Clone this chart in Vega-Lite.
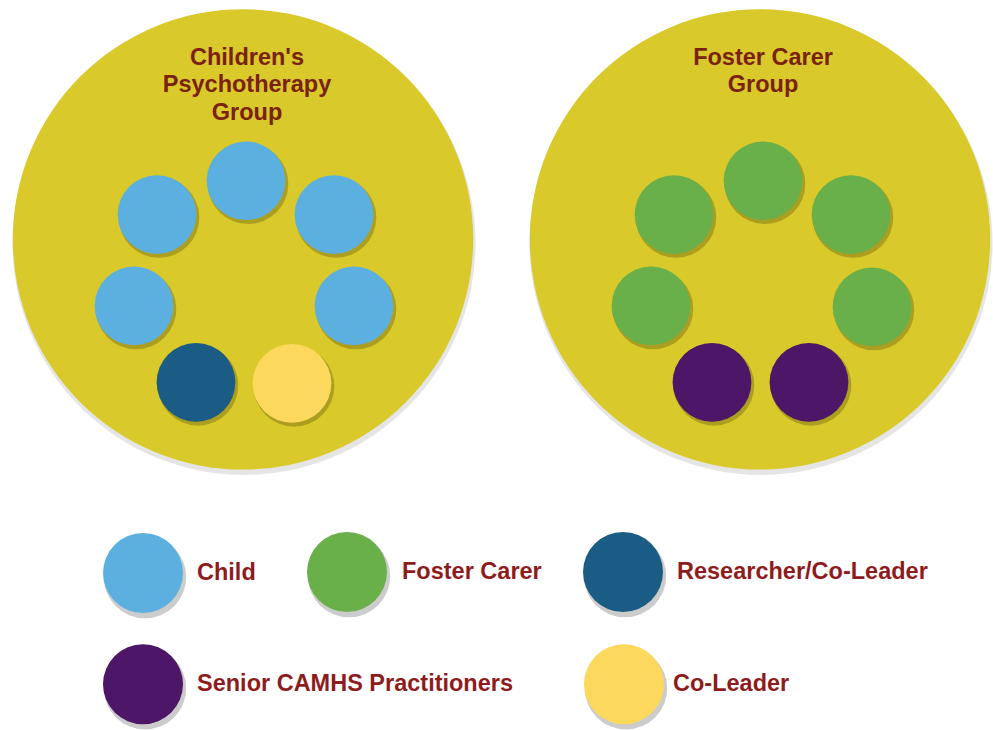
{
  "$schema": "https://vega.github.io/schema/vega-lite/v6.json",
  "width": 993,
  "height": 730,
  "autosize": {"type": "fit", "contains": "padding"},
  "padding": 0,
  "background": "#ffffff",
  "config": {"view": {"stroke": null}},
  "datasets": {
    "groups": [
      {"group": "Children's Psychotherapy Group", "x": 243, "y": 241},
      {"group": "Foster Carer Group", "x": 760, "y": 241}
    ],
    "members": [
      {"group": "Children's Psychotherapy Group", "role": "Child", "x": 246, "y": 182},
      {"group": "Children's Psychotherapy Group", "role": "Child", "x": 157, "y": 216},
      {"group": "Children's Psychotherapy Group", "role": "Child", "x": 334, "y": 216},
      {"group": "Children's Psychotherapy Group", "role": "Child", "x": 134, "y": 308},
      {"group": "Children's Psychotherapy Group", "role": "Child", "x": 354, "y": 308},
      {"group": "Children's Psychotherapy Group", "role": "Researcher/Co-Leader", "x": 196, "y": 385},
      {"group": "Children's Psychotherapy Group", "role": "Co-Leader", "x": 292, "y": 386},
      {"group": "Foster Carer Group", "role": "Foster Carer", "x": 763, "y": 182},
      {"group": "Foster Carer Group", "role": "Foster Carer", "x": 674, "y": 216},
      {"group": "Foster Carer Group", "role": "Foster Carer", "x": 851, "y": 216},
      {"group": "Foster Carer Group", "role": "Foster Carer", "x": 651, "y": 308},
      {"group": "Foster Carer Group", "role": "Foster Carer", "x": 872, "y": 309},
      {"group": "Foster Carer Group", "role": "Senior CAMHS Practitioners", "x": 712, "y": 385},
      {"group": "Foster Carer Group", "role": "Senior CAMHS Practitioners", "x": 809, "y": 385}
    ],
    "titles": [
      {"label": "Children's", "x": 247, "y": 65},
      {"label": "Psychotherapy", "x": 247, "y": 93},
      {"label": "Group", "x": 247, "y": 121},
      {"label": "Foster Carer", "x": 763, "y": 65},
      {"label": "Group", "x": 763, "y": 93}
    ],
    "legend": [
      {"role": "Child", "x": 143, "y": 577, "tx": 197},
      {"role": "Foster Carer", "x": 347, "y": 576, "tx": 402},
      {"role": "Researcher/Co-Leader", "x": 623, "y": 576, "tx": 677},
      {"role": "Senior CAMHS Practitioners", "x": 143, "y": 689, "tx": 197},
      {"role": "Co-Leader", "x": 624, "y": 689, "tx": 673}
    ]
  },
  "encoding": {
    "x": {"field": "x", "type": "quantitative", "scale": {"domain": [0, 993], "nice": false, "zero": false}, "axis": null},
    "y": {"field": "y", "type": "quantitative", "scale": {"domain": [0, 730], "nice": false, "zero": false, "reverse": true}, "axis": null}
  },
  "layer": [
    {
      "data": {"name": "groups"},
      "mark": {"type": "point", "shape": "circle", "filled": true, "size": 214500, "color": "#000000", "opacity": 0.1, "yOffset": 4, "xOffset": 1}
    },
    {
      "data": {"name": "groups"},
      "mark": {"type": "point", "shape": "circle", "filled": true, "size": 212000, "color": "#D9C92B", "opacity": 1}
    },
    {
      "data": {"name": "members"},
      "mark": {"type": "point", "shape": "circle", "filled": true, "size": 6500, "color": "#3a3000", "opacity": 0.28, "xOffset": 2, "yOffset": 3}
    },
    {
      "data": {"name": "members"},
      "mark": {"type": "point", "shape": "circle", "filled": true, "size": 6200, "opacity": 1},
      "encoding": {
        "color": {"field": "role", "type": "nominal", "legend": null,
          "scale": {"domain": ["Child", "Foster Carer", "Researcher/Co-Leader", "Senior CAMHS Practitioners", "Co-Leader"],
                    "range": ["#5CB0E0", "#6AB04A", "#1A5C84", "#4D1666", "#FCD85C"]}}
      }
    },
    {
      "data": {"name": "titles"},
      "mark": {"type": "text", "font": "Liberation Sans", "fontWeight": "bold", "fontSize": 23.5, "color": "#7A2212", "align": "center", "baseline": "alphabetic"},
      "encoding": {"text": {"field": "label", "type": "nominal"}}
    },
    {
      "data": {"name": "legend"},
      "mark": {"type": "point", "shape": "circle", "filled": true, "size": 6800, "color": "#000000", "opacity": 0.2, "xOffset": 2, "yOffset": 4}
    },
    {
      "data": {"name": "legend"},
      "mark": {"type": "point", "shape": "circle", "filled": true, "size": 6400, "opacity": 1},
      "encoding": {
        "color": {"field": "role", "type": "nominal", "legend": null,
          "scale": {"domain": ["Child", "Foster Carer", "Researcher/Co-Leader", "Senior CAMHS Practitioners", "Co-Leader"],
                    "range": ["#5CB0E0", "#6AB04A", "#1A5C84", "#4D1666", "#FCD85C"]}}
      }
    },
    {
      "data": {"name": "legend"},
      "mark": {"type": "text", "font": "Liberation Sans", "fontWeight": "bold", "fontSize": 23.5, "color": "#8E1C1C", "align": "left", "baseline": "middle"},
      "encoding": {
        "x": {"field": "tx", "type": "quantitative"},
        "text": {"field": "role", "type": "nominal"}
      }
    }
  ]
}
